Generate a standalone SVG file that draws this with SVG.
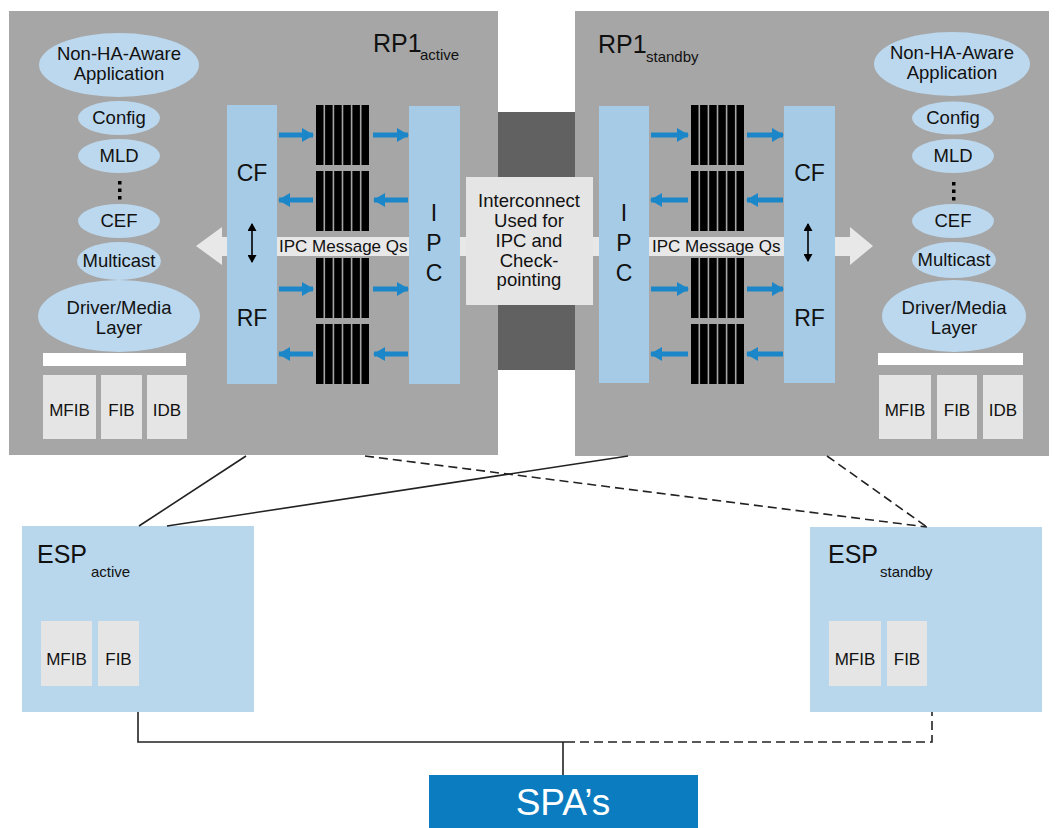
<svg xmlns="http://www.w3.org/2000/svg" width="1057" height="828" viewBox="0 0 1057 828">
<defs>
<style>
.panel{fill:#a6a6a6}
.col{fill:#a5cbe7}
.ell{fill:#bcd8ee}
.lbox{fill:#e5e5e5}
.bar{fill:#000}
.t{font-family:"Liberation Sans",Arial,sans-serif;fill:#111}
.e{font-size:18.5px;text-anchor:middle}
.b{font-size:17px;text-anchor:middle}
.big{font-size:23px;text-anchor:middle}
.ba{stroke:#1b87c9;stroke-width:5;fill:none}
.ln{stroke:#222;stroke-width:1.6;fill:none}
.dash{stroke-dasharray:9 5}
.esp{fill:#b8d6ec}
</style>
<marker id="bh" markerWidth="12" markerHeight="14" refX="11" refY="7" orient="auto" markerUnits="userSpaceOnUse">
<path d="M0,0 L12,7 L0,14 z" fill="#1b87c9"/>
</marker>
<marker id="kh" markerWidth="8" markerHeight="9" refX="7" refY="4.5" orient="auto-start-reverse" markerUnits="userSpaceOnUse">
<path d="M0,0 L8,4.5 L0,9 z" fill="#000"/>
</marker>
<g id="bars">
<rect class="bar" x="0" y="0" width="7.5" height="60"/>
<rect class="bar" x="9.1" y="0" width="7.5" height="60"/>
<rect class="bar" x="18.2" y="0" width="7.5" height="60"/>
<rect class="bar" x="27.3" y="0" width="7.5" height="60"/>
<rect class="bar" x="36.4" y="0" width="7.5" height="60"/>
<rect class="bar" x="45.5" y="0" width="7.5" height="60"/>
</g>
</defs>

<!-- interconnect band -->
<g id="interconnect-band">
<rect x="497" y="112" width="79" height="258" fill="#616161"/>
</g>

<!-- left RP1 panel -->
<g id="rp1-active">
<rect class="panel" x="9" y="11" width="489" height="444"/>
<text class="t" x="373" y="52" font-size="25">RP1</text>
<text class="t" x="420" y="60" font-size="15">active</text>
</g>

<!-- right RP1 panel -->
<g id="rp1-standby">
<rect class="panel" x="575" y="11" width="474" height="445"/>
<text class="t" x="598" y="53" font-size="25">RP1</text>
<text class="t" x="646" y="62" font-size="15">standby</text>
</g>

<!-- IPC message shaft -->
<g id="ipc-message-qs">
<path d="M196,246 L222,227 L222,237 L850,237 L850,227 L873,246 L850,265 L850,256 L222,256 L222,265 z" fill="#e8e8e8"/>
</g>

<!-- left internals -->
<g id="left-cf-rf">
<rect class="col" x="227" y="105" width="50" height="279"/>
<text class="t big" x="252" y="181">CF</text>
<text class="t big" x="252" y="326">RF</text>
<line x1="252" y1="224" x2="252" y2="262" stroke="#000" stroke-width="1.6" marker-start="url(#kh)" marker-end="url(#kh)"/>
</g>
<g id="left-ipc">
<rect class="col" x="409" y="106" width="51" height="278"/>
<text class="t big" x="434" y="221">I</text>
<text class="t big" x="434" y="251">P</text>
<text class="t big" x="434" y="281">C</text>
</g>
<g id="left-queues">
<use href="#bars" x="316" y="105"/>
<use href="#bars" x="316" y="171"/>
<use href="#bars" x="316" y="258"/>
<use href="#bars" x="316" y="324"/>
</g>
<text class="t" x="279" y="252" font-size="17">IPC Message Qs</text>

<!-- right internals -->
<g id="right-ipc">
<rect class="col" x="599" y="106" width="50" height="277"/>
<text class="t big" x="624" y="221">I</text>
<text class="t big" x="624" y="251">P</text>
<text class="t big" x="624" y="281">C</text>
</g>
<g id="right-cf-rf">
<rect class="col" x="784" y="106" width="51" height="277"/>
<text class="t big" x="809.5" y="181">CF</text>
<text class="t big" x="809.5" y="326">RF</text>
<line x1="808" y1="224" x2="808" y2="261" stroke="#000" stroke-width="1.6" marker-start="url(#kh)" marker-end="url(#kh)"/>
</g>
<g id="right-queues">
<use href="#bars" x="691" y="105"/>
<use href="#bars" x="691" y="171"/>
<use href="#bars" x="691" y="258"/>
<use href="#bars" x="691" y="324"/>
</g>
<text class="t" x="652" y="252" font-size="17">IPC Message Qs</text>

<!-- interconnect box -->
<g id="interconnect">
<rect class="lbox" x="466" y="177" width="127" height="128"/>
<text class="t e" x="529" y="207">Interconnect</text>
<text class="t e" x="529" y="227">Used for</text>
<text class="t e" x="529" y="247">IPC and</text>
<text class="t e" x="529" y="267">Check-</text>
<text class="t e" x="529" y="286">pointing</text>
</g>

<!-- left stack -->
<g id="left-stack">
<ellipse class="ell" cx="119" cy="65" rx="80" ry="32"/>
<text class="t e" x="119" y="60">Non-HA-Aware</text>
<text class="t e" x="119" y="80">Application</text>
<ellipse class="ell" cx="119" cy="118" rx="41" ry="17"/>
<text class="t e" x="119" y="124">Config</text>
<ellipse class="ell" cx="119" cy="156" rx="41" ry="17"/>
<text class="t e" x="119" y="162">MLD</text>
<rect x="118" y="181" width="3.5" height="3.5" fill="#000"/>
<rect x="118" y="188.5" width="3.5" height="3.5" fill="#000"/>
<rect x="118" y="196" width="3.5" height="3.5" fill="#000"/>
<ellipse class="ell" cx="119" cy="221" rx="41" ry="17"/>
<text class="t e" x="119" y="227">CEF</text>
<ellipse class="ell" cx="119" cy="261" rx="42" ry="19"/>
<text class="t e" x="119" y="267">Multicast</text>
<ellipse class="ell" cx="119" cy="316" rx="81" ry="36"/>
<text class="t e" x="119" y="314">Driver/Media</text>
<text class="t e" x="119" y="334">Layer</text>
<rect x="43" y="353" width="143" height="13" fill="#fff"/>
<rect class="lbox" x="43" y="375" width="53" height="64"/>
<rect class="lbox" x="101" y="375" width="41" height="64"/>
<rect class="lbox" x="147" y="375" width="40" height="64"/>
<text class="t b" x="69.5" y="416">MFIB</text>
<text class="t b" x="121.5" y="416">FIB</text>
<text class="t b" x="167" y="416">IDB</text>
</g>

<!-- right stack -->
<g id="right-stack">
<ellipse class="ell" cx="952" cy="64" rx="78" ry="32"/>
<text class="t e" x="952" y="59">Non-HA-Aware</text>
<text class="t e" x="952" y="79">Application</text>
<ellipse class="ell" cx="953" cy="118" rx="41" ry="16.5"/>
<text class="t e" x="953" y="124">Config</text>
<ellipse class="ell" cx="953" cy="156" rx="41" ry="17"/>
<text class="t e" x="953" y="162">MLD</text>
<rect x="952" y="182" width="3.5" height="3.5" fill="#000"/>
<rect x="952" y="189.5" width="3.5" height="3.5" fill="#000"/>
<rect x="952" y="197" width="3.5" height="3.5" fill="#000"/>
<ellipse class="ell" cx="953" cy="221" rx="41" ry="17"/>
<text class="t e" x="953" y="227">CEF</text>
<ellipse class="ell" cx="954" cy="260" rx="42" ry="18"/>
<text class="t e" x="954" y="266">Multicast</text>
<ellipse class="ell" cx="954" cy="316" rx="72" ry="36"/>
<text class="t e" x="954" y="314">Driver/Media</text>
<text class="t e" x="954" y="334">Layer</text>
<rect x="878" y="353" width="145" height="12" fill="#fff"/>
<rect class="lbox" x="879" y="375" width="52" height="64"/>
<rect class="lbox" x="937" y="375" width="40" height="64"/>
<rect class="lbox" x="983" y="375" width="40" height="64"/>
<text class="t b" x="905" y="416">MFIB</text>
<text class="t b" x="957" y="416">FIB</text>
<text class="t b" x="1003" y="416">IDB</text>
</g>

<!-- blue queue arrows -->
<g id="queue-arrows">
<line class="ba" x1="279" y1="135" x2="313" y2="135" marker-end="url(#bh)"/>
<line class="ba" x1="373" y1="135" x2="408" y2="135" marker-end="url(#bh)"/>
<line class="ba" x1="313" y1="200" x2="279" y2="200" marker-end="url(#bh)"/>
<line class="ba" x1="408" y1="200" x2="374" y2="200" marker-end="url(#bh)"/>
<line class="ba" x1="279" y1="289" x2="313" y2="289" marker-end="url(#bh)"/>
<line class="ba" x1="373" y1="289" x2="408" y2="289" marker-end="url(#bh)"/>
<line class="ba" x1="313" y1="354" x2="279" y2="354" marker-end="url(#bh)"/>
<line class="ba" x1="408" y1="354" x2="374" y2="354" marker-end="url(#bh)"/>
<line class="ba" x1="651" y1="135" x2="688" y2="135" marker-end="url(#bh)"/>
<line class="ba" x1="747" y1="135" x2="783" y2="135" marker-end="url(#bh)"/>
<line class="ba" x1="688" y1="200" x2="651" y2="200" marker-end="url(#bh)"/>
<line class="ba" x1="783" y1="200" x2="747" y2="200" marker-end="url(#bh)"/>
<line class="ba" x1="651" y1="289" x2="688" y2="289" marker-end="url(#bh)"/>
<line class="ba" x1="747" y1="289" x2="783" y2="289" marker-end="url(#bh)"/>
<line class="ba" x1="688" y1="354" x2="651" y2="354" marker-end="url(#bh)"/>
<line class="ba" x1="783" y1="354" x2="747" y2="354" marker-end="url(#bh)"/>
</g>

<!-- ESP active -->
<g id="esp-active">
<rect class="esp" x="22" y="526" width="232" height="186"/>
<text class="t" x="37" y="563" font-size="25">ESP</text>
<text class="t" x="91" y="577" font-size="15">active</text>
<rect class="lbox" x="41" y="621" width="51" height="65"/>
<rect class="lbox" x="98" y="621" width="41" height="65"/>
<text class="t b" x="66.5" y="665">MFIB</text>
<text class="t b" x="118.5" y="665">FIB</text>
</g>

<!-- ESP standby -->
<g id="esp-standby">
<rect class="esp" x="810" y="527" width="232" height="185"/>
<text class="t" x="828" y="563" font-size="25">ESP</text>
<text class="t" x="880" y="577" font-size="15">standby</text>
<rect class="lbox" x="829" y="621" width="52" height="65"/>
<rect class="lbox" x="887" y="621" width="40" height="65"/>
<text class="t b" x="855" y="665">MFIB</text>
<text class="t b" x="907" y="665">FIB</text>
</g>

<!-- SPA -->
<g id="spa">
<rect x="429" y="775" width="269" height="53" fill="#0b7cc0"/>
<text x="563" y="815" font-family="Liberation Sans, Arial, sans-serif" font-size="37" fill="#fff" text-anchor="middle">SPA’s</text>
</g>

<!-- connectors -->
<g id="connectors">
<line class="ln" x1="246" y1="456" x2="139" y2="526"/>
<line class="ln" x1="628" y1="456" x2="167" y2="526"/>
<line class="ln dash" x1="365" y1="456" x2="927" y2="527"/>
<line class="ln dash" x1="827" y1="456" x2="927" y2="527"/>
<polyline class="ln" points="138,712 138,742 566,742"/>
<polyline class="ln dash" points="566,742 932,742 932,712"/>
<line class="ln" x1="563" y1="742" x2="563" y2="775"/>
</g>
</svg>
